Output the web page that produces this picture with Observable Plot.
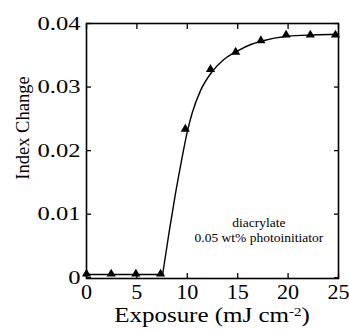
<!DOCTYPE html>
<html>
<head>
<meta charset="utf-8">
<script src="https://cdn.jsdelivr.net/npm/d3@7"></script>
<script src="https://cdn.jsdelivr.net/npm/@observablehq/plot@0.6"></script>
<style>
  html, body { margin: 0; padding: 0; background: #fff; }
  svg { display: block; }
  svg, svg text { font-family: "Liberation Serif", "Times New Roman", Times, serif !important; }
</style>
</head>
<body>
<div id="chart"></div>
<script>
const xTicks = [0, 5, 10, 15, 20, 25];
const yTicks = [0, 0.01, 0.02, 0.03, 0.04];
const measX = [0, 2.45, 4.9, 7.35, 9.8, 12.3, 14.8, 17.3, 19.8, 22.2, 24.7];
const measY = [0.0006, 0.0006, 0.0006, 0.0006, 0.0234, 0.0328, 0.0355, 0.0373, 0.0382, 0.0382, 0.0382];
const fitX = [0, 7.55, 8.2, 8.8, 9.4, 10.0, 10.5, 11.3, 12.5, 13.6, 15.0, 16.3, 17.3, 19.9, 22.5, 25];
const fitY = [0.0005, 0.0005, 0.0072, 0.0130, 0.0182, 0.0230, 0.0260, 0.0294, 0.0325, 0.0343, 0.0357, 0.0367, 0.0372, 0.0380, 0.0382, 0.0383];
const noteLines = ["diacrylate", "0.05 wt% photoinitiator"];
const xTitle = "Exposure (mJ cm";
const xTitleSup = "-2";
const yTitle = "Index Change";

const meas = measX.map((x, i) => ({x, y: measY[i]}));
const fit = fitX.map((x, i) => ({x, y: fitY[i]}));
const flat = fit.slice(0, 2);
const rise = fit.slice(1);

const font = "Liberation Serif, Times New Roman, Times, serif";

const plot = Plot.plot({
  width: 349,
  height: 329,
  marginLeft: 86,
  marginRight: 11,
  marginTop: 23,
  marginBottom: 51,
  style: {fontFamily: font, fontSize: "19px", color: "#000", background: "#fff"},
  x: {domain: [0, 25]},
  y: {domain: [-0.00012, 0.04]},
  marks: [
    Plot.frame({stroke: "#000", strokeWidth: 1.6}),
    Plot.axisX(xTicks, {anchor: "bottom", tickSize: 0, tickPadding: 6, fontSize: 20.5, label: null}),
    Plot.axisX(xTicks, {anchor: "bottom", tickSize: -5, tickFormat: () => "", label: null, strokeWidth: 1.3}),
    Plot.axisX(xTicks, {anchor: "top", tickSize: -5, tickFormat: () => "", label: null, strokeWidth: 1.3}),
    Plot.axisY(yTicks, {anchor: "left", tickSize: 0, tickPadding: 6, fontSize: 19.5, label: null,
      tickFormat: d => d === 0 ? "0" : d.toFixed(2)}),
    Plot.axisY(yTicks, {anchor: "left", tickSize: -5, tickFormat: () => "", label: null, strokeWidth: 1.3}),
    Plot.axisY(yTicks, {anchor: "right", tickSize: -5, tickFormat: () => "", label: null, strokeWidth: 1.3}),
    Plot.line(flat, {x: "x", y: "y", stroke: "#000", strokeWidth: 1.4}),
    Plot.line(rise, {x: "x", y: "y", stroke: "#000", strokeWidth: 1.4, curve: "monotone-x"}),
    Plot.dot(meas, {x: "x", y: "y", symbol: "triangle", r: 3.4, fill: "#000", stroke: "none"}),
    Plot.text([noteLines.join("\n")], {x: 17.1, y: 0.0075, fontSize: 13.5, lineHeight: 1.1, fill: "#000"})
  ]
});

document.getElementById("chart").append(plot);

// horizontal stretch of text around its anchor x
function stretch(el, k) {
  const ax = parseFloat(el.getAttribute("x")) || 0;
  const t = el.getAttribute("transform") || "";
  el.setAttribute("transform", `${t} translate(${ax},0) scale(${k},1) translate(${-ax},0)`);
}
const svg = d3.select(plot);
svg.selectAll('g[aria-label="y-axis tick label"] text').each(function() { stretch(this, 1.26); });
svg.selectAll('g[aria-label="x-axis tick label"] text').each(function() { stretch(this, 1.08); });

// axis titles
svg.append("text")
  .attr("transform", `translate(${(86 + 338) / 2}, 322) scale(1.25,1)`)
  .attr("text-anchor", "middle")
  .attr("font-size", 20)
  .attr("fill", "#000")
  .call(t => {
    t.append("tspan").text(xTitle);
    t.append("tspan").attr("font-size", 12).attr("dy", -6.5).text(xTitleSup);
    t.append("tspan").attr("dy", 6.5).text(")");
  });
svg.append("text")
  .attr("transform", `translate(29, 128) rotate(-90)`)
  .attr("text-anchor", "middle")
  .attr("font-size", 18.5)
  .attr("fill", "#000")
  .text(yTitle);
</script>
</body>
</html>
